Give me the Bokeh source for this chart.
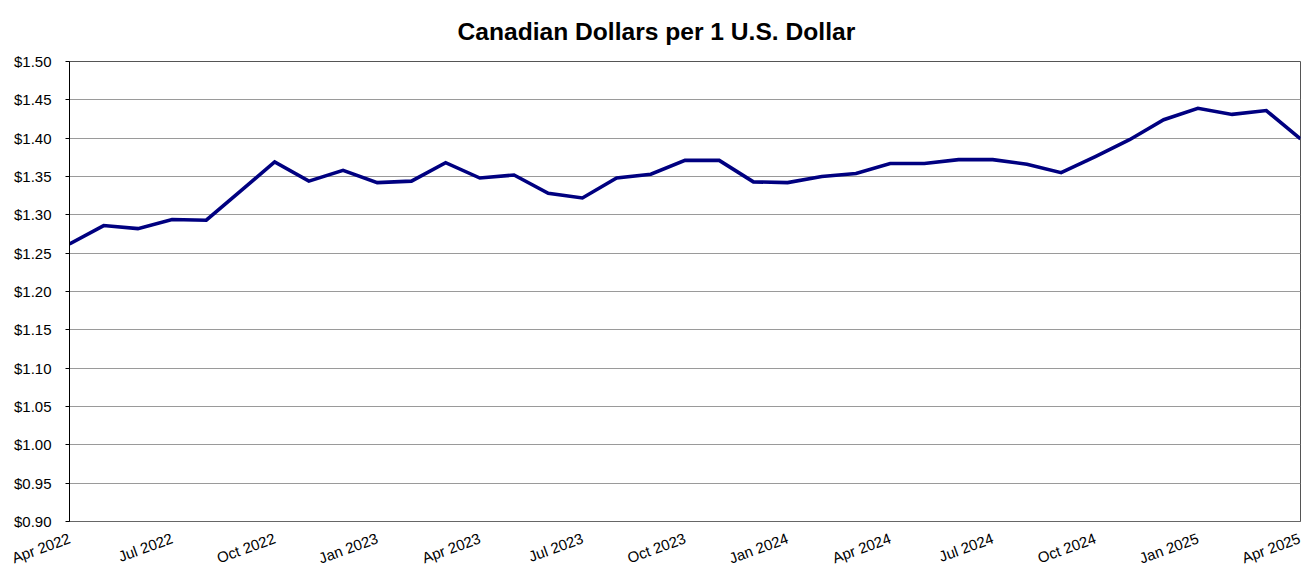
from bokeh.plotting import figure
from bokeh.models import Range1d, FixedTicker, ColumnDataSource
from bokeh.embed import file_html
from bokeh.resources import INLINE
import math

months = ["Apr 2022", "May 2022", "Jun 2022", "Jul 2022", "Aug 2022", "Sep 2022",
          "Oct 2022", "Nov 2022", "Dec 2022", "Jan 2023", "Feb 2023", "Mar 2023",
          "Apr 2023", "May 2023", "Jun 2023", "Jul 2023", "Aug 2023", "Sep 2023",
          "Oct 2023", "Nov 2023", "Dec 2023", "Jan 2024", "Feb 2024", "Mar 2024",
          "Apr 2024", "May 2024", "Jun 2024", "Jul 2024", "Aug 2024", "Sep 2024",
          "Oct 2024", "Nov 2024", "Dec 2024", "Jan 2025", "Feb 2025", "Mar 2025",
          "Apr 2025"]
cad_per_usd = [1.262, 1.286, 1.282, 1.294, 1.293, 1.331,
               1.369, 1.344, 1.358, 1.342, 1.344, 1.368,
               1.348, 1.352, 1.328, 1.322, 1.348, 1.353,
               1.371, 1.371, 1.343, 1.342, 1.350, 1.354,
               1.367, 1.367, 1.372, 1.372, 1.366, 1.355,
               1.376, 1.398, 1.424, 1.439, 1.431, 1.436,
               1.399]
tick_labels = ["Apr 2022", "Jul 2022", "Oct 2022", "Jan 2023", "Apr 2023",
               "Jul 2023", "Oct 2023", "Jan 2024", "Apr 2024", "Jul 2024",
               "Oct 2024", "Jan 2025", "Apr 2025"]
y_ticks = [0.90, 0.95, 1.00, 1.05, 1.10, 1.15, 1.20, 1.25, 1.30, 1.35, 1.40, 1.45, 1.50]

idx = list(range(len(months)))
tick_pos = [months.index(t) for t in tick_labels]

src = ColumnDataSource(dict(x=idx, y=cad_per_usd, month=months))

FONT = "Liberation Sans"

p = figure(frame_width=1231, frame_height=460,
           x_range=Range1d(0, len(months) - 1), y_range=Range1d(0.90, 1.50),
           output_backend="svg", toolbar_location=None,
           min_border_left=69, min_border_right=2, min_border_top=61, min_border_bottom=46,
           title="Canadian Dollars per 1 U.S. Dollar")

p.title.text_font = FONT
p.title.text_font_size = "24.6px"
p.title.text_font_style = "bold"
p.title.align = "left"
p.title.offset = 388
p.title.standoff = 32
p.title.vertical_align = "middle"
p.title.text_color = "#000000"

p.outline_line_color = "#555555"
p.outline_line_width = 1

p.xgrid.visible = False
p.ygrid.ticker = FixedTicker(ticks=y_ticks)
p.ygrid.grid_line_color = "#9a9a9a"
p.ygrid.grid_line_width = 1

p.yaxis.ticker = FixedTicker(ticks=y_ticks)
p.yaxis.major_label_overrides = {t: "${:.2f}".format(t) for t in y_ticks}
p.yaxis.axis_line_color = "#000000"
p.yaxis.major_tick_line_color = "#000000"
p.yaxis.major_tick_out = 4
p.yaxis.major_tick_in = 0
p.yaxis.minor_tick_out = 0
p.yaxis.minor_tick_in = 0
p.yaxis.major_label_standoff = 14
p.yaxis.major_label_text_font = FONT
p.yaxis.major_label_text_font_size = "15px"
p.yaxis.major_label_text_color = "#000000"

p.xaxis.ticker = FixedTicker(ticks=tick_pos)
p.xaxis.major_label_overrides = {pos: lab for pos, lab in zip(tick_pos, tick_labels)}
p.xaxis.major_label_orientation = math.radians(20)
p.xaxis.axis_line_color = "#666666"
p.xaxis.major_tick_out = 0
p.xaxis.major_tick_in = 0
p.xaxis.minor_tick_out = 0
p.xaxis.minor_tick_in = 0
p.xaxis.major_label_standoff = 16
p.xaxis.major_label_text_font = FONT
p.xaxis.major_label_text_font_size = "15px"
p.xaxis.major_label_text_color = "#000000"

p.line("x", "y", source=src, line_color="#000080", line_width=3.6, line_join="miter")

open("out.html", "w").write(file_html(p, INLINE))
